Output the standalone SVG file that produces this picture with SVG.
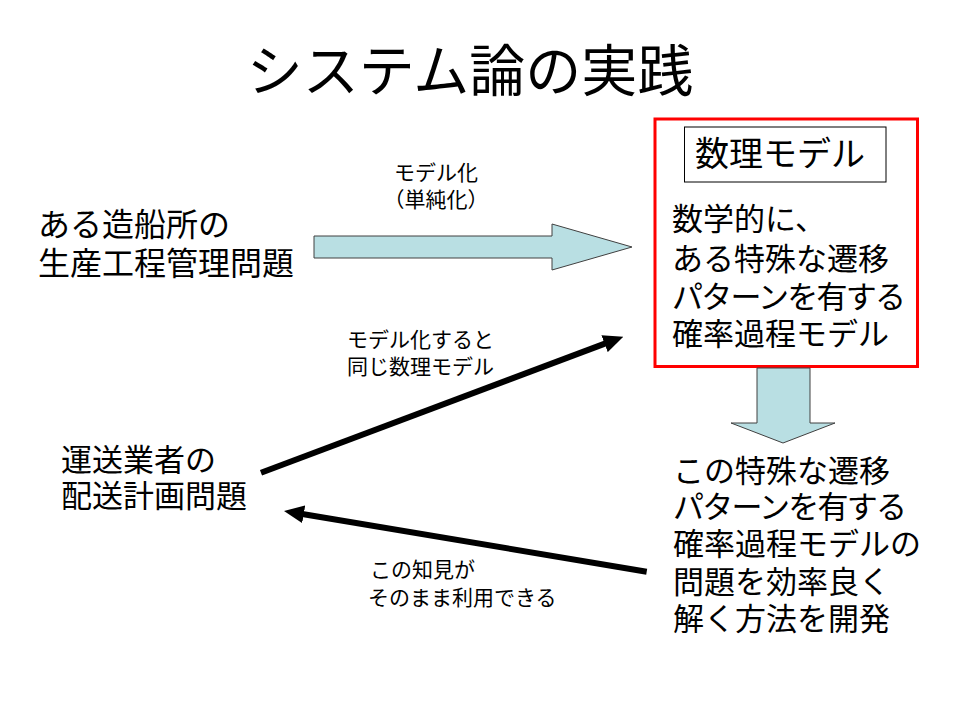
<svg xmlns="http://www.w3.org/2000/svg" width="960" height="720" viewBox="0 0 960 720">
<defs>
<style>
text{font-family:"Liberation Sans","Noto Sans CJK JP","Noto Sans CJK SC",sans-serif;fill:#000}
.title{font-size:56px}
.big{font-size:31px}
.lab{font-size:21px}
.block{fill:#B9DFE3;stroke:#404040;stroke-width:1}
.conn{stroke:#000;stroke-width:6;fill:none}
</style>
<marker id="ah" markerUnits="userSpaceOnUse" markerWidth="20" markerHeight="18" refX="6" refY="9" orient="auto" viewBox="0 0 20 18">
<path d="M0,0 L20,9 L0,18 z" fill="#000"/>
</marker>
</defs>
<rect width="960" height="720" fill="#fff"/>
<g id="title"><text class="title" x="470" y="91" text-anchor="middle">システム論の実践</text></g>
<g id="shipyard">
<text class="big" x="38" y="236" style="font-size:32px">ある造船所の</text>
<text class="big" x="38" y="275" style="font-size:32px">生産工程管理問題</text>
</g>
<g id="model">
<rect x="655" y="119" width="262.5" height="247.5" fill="#fff" stroke="#FF0000" stroke-width="3"/>
<rect x="684.5" y="127" width="201.5" height="55" fill="#fff" stroke="#000" stroke-width="1"/>
<text x="695" y="166" font-size="34">数理モデル</text>
<text class="big" x="672" y="230">数学的に、</text>
<text class="big" x="672" y="270">ある特殊な遷移</text>
<text class="big" x="672" y="308" textLength="234" lengthAdjust="spacing">パターンを有する</text>
<text class="big" x="672" y="345">確率過程モデル</text>
</g>
<g id="method">
<text class="big" x="673" y="482">この特殊な遷移</text>
<text class="big" x="673" y="518" textLength="234" lengthAdjust="spacing">パターンを有する</text>
<text class="big" x="673" y="555">確率過程モデルの</text>
<text class="big" x="673" y="593">問題を効率良く</text>
<text class="big" x="673" y="630">解く方法を開発</text>
</g>
<g id="delivery">
<text class="big" x="61" y="471">運送業者の</text>
<text class="big" x="61" y="507">配送計画問題</text>
</g>
<g id="connectors">
<polygon class="block" points="314,236 552,236 552,224 632,247 552,270 552,258 314,258"/>
<polygon class="block" points="757,368 810,368 810,423 835,423 783,443 731,423 757,423"/>
<line class="conn" x1="261" y1="472.7" x2="610.2" y2="341.6" marker-end="url(#ah)"/>
<line class="conn" x1="646.7" y1="571.7" x2="297.8" y2="513.3" marker-end="url(#ah)"/>
<text class="lab" x="436" y="180" text-anchor="middle">モデル化</text>
<text class="lab" x="436" y="207" text-anchor="middle">（単純化）</text>
<text class="lab" x="347" y="347">モデル化すると</text>
<text class="lab" x="347" y="374">同じ数理モデル</text>
<text class="lab" x="370" y="577">この知見が</text>
<text class="lab" x="368" y="605">そのまま利用できる</text>
</g>
</svg>
